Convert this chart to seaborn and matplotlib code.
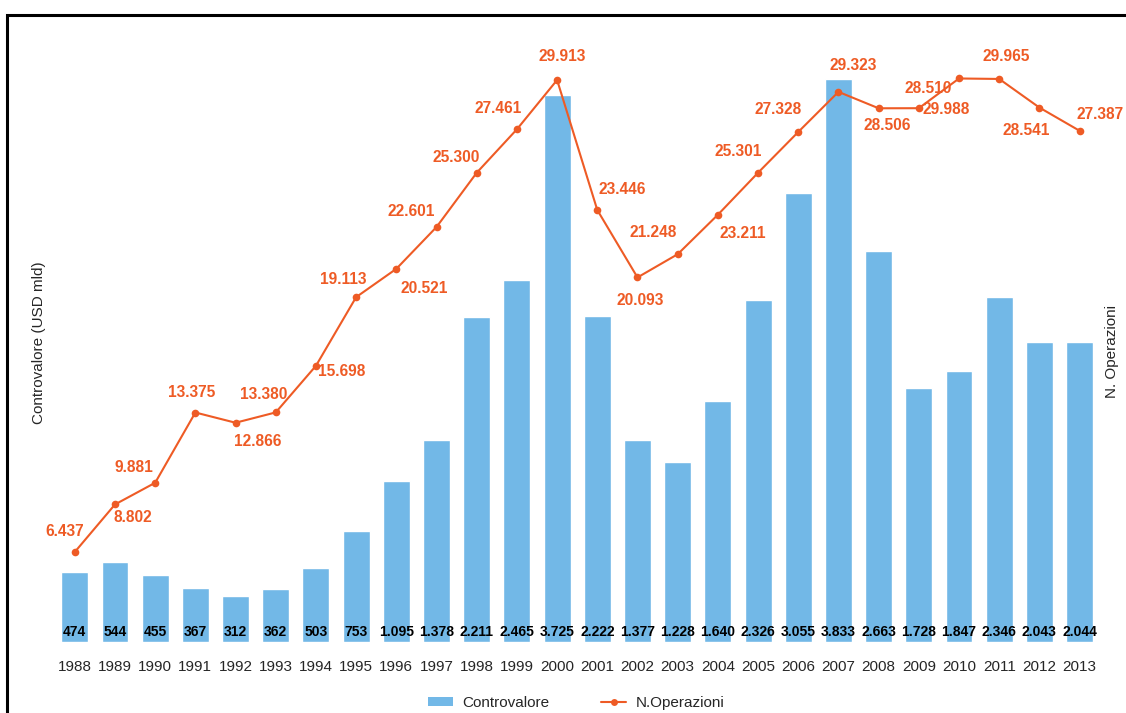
import os
import matplotlib
matplotlib.use("Agg")
import matplotlib.pyplot as plt
from matplotlib import font_manager
from matplotlib.lines import Line2D
from matplotlib.patches import Patch, Rectangle
import numpy as np
import pandas as pd
import seaborn as sns

# --- data -----------------------------------------------------------------
years = [str(y) for y in range(1988, 2014)]
controvalore = [474, 544, 455, 367, 312, 362, 503, 753, 1095, 1378, 2211, 2465,
                3725, 2222, 1377, 1228, 1640, 2326, 3055, 3833, 2663, 1728,
                1847, 2346, 2043, 2044]
operazioni = [6437, 8802, 9881, 13375, 12866, 13380, 15698, 19113, 20521,
              22601, 25300, 27461, 29913, 23446, 20093, 21248, 23211, 25301,
              27328, 29323, 28506, 28510, 29988, 29965, 28541, 27387]

# label placement for the line values (pixel offsets from each point)
op_label_offsets = [(-10, 20), (18, -13), (-21, 15), (-4, 20), (22, -19),
                    (-12, 18), (26, -6), (-13, 18), (28, -20), (-25, 16),
                    (-21, 15), (-19, 21), (5, 23), (25, 21), (3, -23),
                    (-24, 22), (25, -19), (-20, 21), (-20, 22), (15, 26),
                    (9, -17), (9, 20), (-13, -31), (7, 22), (-13, -23),
                    (20, 16)]


def it_fmt(v):
    return f"{v:,}".replace(",", ".")


df = pd.DataFrame({"anno": years, "controvalore": controvalore,
                   "operazioni": operazioni})
df["pos"] = np.arange(len(years))

sns.set_theme(style="white")
plt.rcParams["font.family"] = ["Liberation Sans", "DejaVu Sans"]


def narrow_bold_font():
    """Pick a condensed bold face for the bar values, if one is installed."""
    wanted = [("liberationsansnarrow-bold.", 11),
              ("notosans-condensedbold.", 10.5),
              ("notosanscondensed-bold.", 10.5),
              ("notosans-extracondensedbold.", 11),
              ("notosans-semicondensedbold.", 9.8)]
    files = {os.path.basename(f.fname).lower(): f.fname
             for f in font_manager.fontManager.ttflist}
    for key, size in wanted:
        for name, path in files.items():
            if name.startswith(key):
                return font_manager.FontProperties(fname=path, size=size)
    return font_manager.FontProperties(family="Liberation Sans", weight="bold",
                                       size=10)


bar_font = narrow_bold_font()

BAR_COLOR = "#72B8E7"
LINE_COLOR = "#EE5B25"
TEXT_COLOR = "#262626"

W, H = 1126, 713
fig = plt.figure(figsize=(W / 100, H / 100), dpi=100)
fig.patch.set_facecolor("white")

L, R, T, B = 54.7, 1099.7, 60, 642
ax = fig.add_axes([L / W, 1 - B / H, (R - L) / W, (B - T) / H])

sns.barplot(data=df, x="anno", y="controvalore", color=BAR_COLOR,
            width=0.67, saturation=1, ax=ax, zorder=1)
ax.set_xlim(-0.5, len(years) - 0.5)
ax.set_ylim(0, (B - T) / 0.1469)
ax.set_ylabel("")
ax.set_xlabel("")
ax.set_yticks([])
ax.tick_params(axis="x", length=0, pad=13, labelsize=11, labelcolor=TEXT_COLOR)
for s in ax.spines.values():
    s.set_visible(False)

for i, v in enumerate(controvalore):
    ax.annotate(it_fmt(v), xy=(i, 0), xytext=(0, 10),
                textcoords="offset pixels", ha="center", va="center",
                color="black", fontproperties=bar_font)

ax2 = ax.twinx()
ax2.set_position(ax.get_position())
sns.lineplot(data=df, x="pos", y="operazioni", color=LINE_COLOR, marker="o",
             markersize=5.5, markeredgewidth=0, linewidth=1.5, ax=ax2, zorder=3)
slope = 0.020106
y_lo = 6437 - (B - 552) / slope
y_hi = 6437 + (552 - T) / slope
ax2.set_ylim(y_lo, y_hi)
ax2.set_yticks([])
ax2.set_ylabel("")
for s in ax2.spines.values():
    s.set_visible(False)

for i, v in enumerate(operazioni):
    dx, dy = op_label_offsets[i]
    ax2.annotate(it_fmt(v), xy=(i, v), xytext=(dx, dy),
                 textcoords="offset pixels", ha="center", va="center",
                 fontsize=11.2, fontweight="bold", color=LINE_COLOR)

# axis titles
fig.text(39 / W, 1 - 343 / H, "Controvalore (USD mld)", rotation=90,
         ha="center", va="center", fontsize=11, color=TEXT_COLOR)
fig.text(1112 / W, 1 - 352 / H, "N. Operazioni", rotation=90, ha="center",
         va="center", fontsize=11, color=TEXT_COLOR)

handles = [Patch(facecolor=BAR_COLOR, edgecolor="none"),
           Line2D([0], [0], color=LINE_COLOR, marker="o", markersize=5,
                  markeredgewidth=0, linewidth=1.5)]
fig.legend(handles, ["Controvalore", "N.Operazioni"], loc="center",
           bbox_to_anchor=(576 / W, 1 - 703 / H), ncol=2, frameon=False,
           fontsize=11, handlelength=1.65, handleheight=0.6,
           columnspacing=3.4, handletextpad=0.6, labelcolor=TEXT_COLOR)

# outer frame
fig.add_artist(Rectangle((7 / W, -0.2), 1.5, 1.2 - 15 / H,
                         transform=fig.transFigure, fill=False,
                         edgecolor="black", linewidth=2.2))

fig.savefig("out.png", dpi=100)
